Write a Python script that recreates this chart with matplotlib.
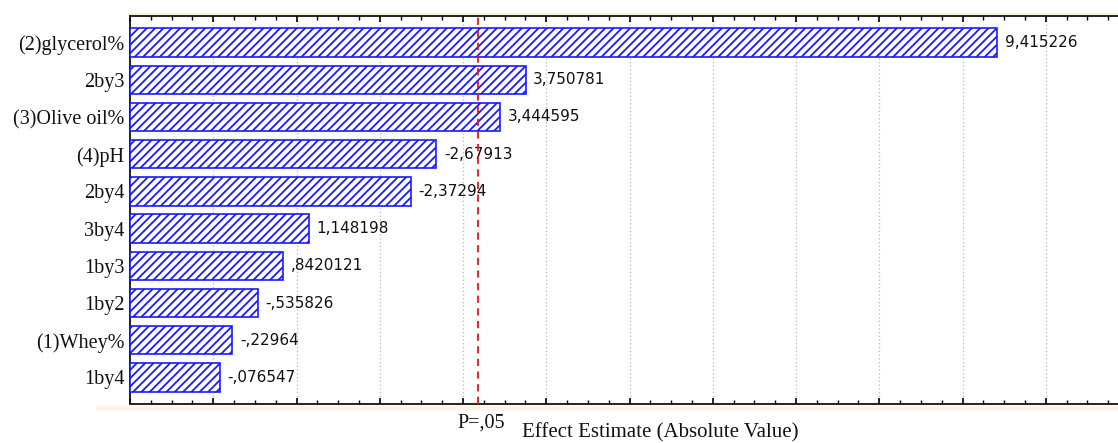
import matplotlib
matplotlib.use("Agg")
import matplotlib.pyplot as plt
from matplotlib.ticker import MultipleLocator, NullFormatter

# Pareto chart of standardized effects
factors = ["(2)glycerol%", "2by3", "(3)Olive oil%", "(4)pH", "2by4",
           "3by4", "1by3", "1by2", "(1)Whey%", "1by4"]
effects = [9.415226, 3.750781, 3.444595, -2.67913, -2.37294,
           1.148198, 0.8420121, -0.535826, -0.22964, -0.076547]
p_critical = 3.182
p_label = "P=,05"
x_label = "Effect Estimate (Absolute Value)"


def fmt_effect(v):
    s = str(v)
    if s.startswith("0."):
        s = s[1:]
    elif s.startswith("-0."):
        s = "-" + s[2:]
    return s.replace(".", ",")


plt.rcParams["hatch.color"] = "#1a1aff"
plt.rcParams["hatch.linewidth"] = 1.3

W, H = 1118, 443
fig = plt.figure(figsize=(W / 100, H / 100), dpi=100)
fig.patch.set_facecolor("white")

left_px, right_px = 130, 1129
top_px, bottom_px = 15.7, 403.5
ax = fig.add_axes([left_px / W, 1 - bottom_px / H,
                   (right_px - left_px) / W, (bottom_px - top_px) / H])

# thin beige bands framing the plot area
fig.add_artist(plt.Rectangle((left_px / W - 0.03, 1 - 411 / H), 1.0, 5 / H,
                             transform=fig.transFigure, color="#fdf6e8",
                             zorder=0, lw=0))
fig.add_artist(plt.Rectangle((left_px / W, 1 - 15 / H), 1.0, 2 / H,
                             transform=fig.transFigure, color="#fdf1e2",
                             zorder=0, lw=0))

ypos = list(range(len(factors)))
magnitudes = [abs(v) for v in effects]
x0 = -1.0
ax.barh(ypos, [m - x0 for m in magnitudes], left=x0, height=0.76,
        color="white", edgecolor="#1a1aff", linewidth=1.2, hatch="////",
        zorder=3)

for y, v in zip(ypos, effects):
    ax.annotate(fmt_effect(v), xy=(abs(v), y), xytext=(5.5, 0),
                textcoords="offset points", va="center", ha="left",
                fontsize=11, family="DejaVu Sans", color="#111111")

ax.axvline(p_critical, color="#e8141c", linestyle=(0, (4, 3)), lw=1.3,
           zorder=4)

ax.set_xlim(-1.0, 11.0)
ax.set_ylim(9.70, -0.72)

ax.xaxis.set_major_locator(MultipleLocator(1))
ax.xaxis.set_minor_locator(MultipleLocator(0.25))
ax.xaxis.set_major_formatter(NullFormatter())
ax.grid(axis="x", which="major", color="#b8b8b8", linestyle=(0, (1, 2)),
        lw=0.9, zorder=1)
ax.tick_params(axis="x", which="major", direction="in", length=4, width=1.2,
               top=True, bottom=True)
ax.tick_params(axis="x", which="minor", direction="in", length=3, width=1,
               top=True, bottom=True)

ax.set_yticks(ypos)
ax.set_yticklabels(factors, family="Liberation Serif", fontsize=14.5,
                   color="#111111")
ax.tick_params(axis="y", direction="in", length=3, width=1, pad=4,
               left=True, right=False)

for side in ("left", "bottom", "top"):
    ax.spines[side].set_linewidth(1.3)
    ax.spines[side].set_color("#111111")
ax.spines["right"].set_visible(False)

fig.text(481 / W, 1 - 423 / H, p_label, ha="center", va="center",
         family="Liberation Serif", fontsize=14.5, color="#111111")
fig.text(660 / W, 1 - 433 / H, x_label, ha="center", va="center",
         family="Liberation Serif", fontsize=15, color="#111111")

fig.savefig("out.png", dpi=100)
